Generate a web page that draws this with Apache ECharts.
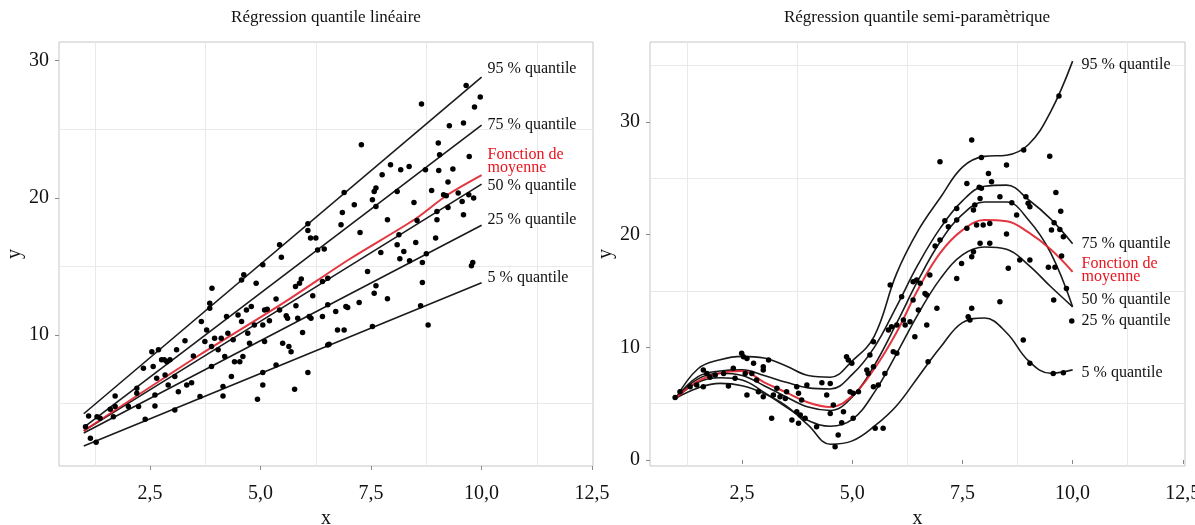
<!DOCTYPE html>
<html><head><meta charset="utf-8">
<script src="https://cdn.jsdelivr.net/npm/echarts@6/dist/echarts.min.js"></script>
<style>html,body{margin:0;padding:0;background:#fff}#c{width:1195px;height:525px}</style>
</head><body><div id="c"></div><script>
// ---------- DATA ----------
const xTicks = [2.5, 5, 7.5, 10, 12.5];
const yTicksLeft = [10, 20, 30];
const yTicksRight = [0, 10, 20, 30];
const gridXs = [1.25, 3.75, 6.25, 8.75, 11.25];
const gridYsLeft = [5, 15, 25];
const gridYsRight = [5, 15, 25, 35];

// Left panel: linear quantile regression (straight lines from x=1 to x=10)
const linX = [1, 10];
const lin95 = [4.25, 28.8];
const lin75 = [3.25, 25.3];
const lin50 = [3.0, 21.0];
const lin25 = [2.85, 18.0];
const lin05 = [1.9, 13.8];
const meanLinX = [1.0, 3.6, 5.5, 7.0, 8.5, 9.2, 10.0];
const meanLinY = [3.0, 8.5, 12.3, 15.5, 18.45, 20.15, 21.65];

const leftPoints = [
[1.11,4.09],[1.15,2.46],[1.04,3.31],[1.30,4.04],[1.37,3.92],[1.28,2.17],[1.60,4.58],[1.71,5.55],[1.71,4.77],[1.67,4.04],
[2.01,4.77],[2.20,6.11],[2.20,5.74],[2.24,4.77],[2.39,3.85],[2.35,7.57],[2.54,8.78],[2.69,8.91],[2.57,7.69],[2.65,6.84],
[2.61,5.62],[2.61,4.82],[2.76,8.18],[2.82,8.18],[2.88,8.05],[2.95,8.18],[2.84,7.08],[3.06,6.96],[3.10,8.91],[3.29,9.58],
[3.06,4.53],[2.91,6.35],[3.14,5.86],[3.33,6.35],[3.44,6.52],[3.48,8.47],[3.66,10.97],[3.63,5.50],[3.78,10.36],[3.74,9.51],
[3.85,12.31],[3.85,11.95],[3.90,13.41],[3.89,9.15],[3.89,7.69],[3.96,9.76],[4.11,9.76],[4.04,8.91],[4.15,6.23],[4.15,5.55],
[4.19,8.42],[4.23,11.34],[4.26,10.12],[4.34,6.96],[4.38,9.64],[4.41,8.05],[4.49,11.46],[4.53,8.05],[4.57,10.97],[4.60,8.42],
[4.62,14.38],[4.57,14.01],[4.68,11.82],[4.71,10.12],[4.75,9.39],[4.79,12.07],[4.86,10.73],[4.90,13.77],[4.93,5.31],[5.05,6.35],
[5.05,10.73],[5.05,15.11],[5.09,11.82],[5.15,11.88],[5.20,11.04],[5.09,9.51],[5.35,12.61],[5.35,7.81],[6.89,20.39],[6.85,18.93],
[6.82,18.03],[6.07,18.10],[6.07,17.61],[6.13,17.06],[6.25,17.06],[6.29,16.20],[6.44,16.26],[5.43,16.57],[5.47,15.67],[5.92,14.07],
[5.88,13.77],[5.79,13.53],[6.18,12.85],[6.40,13.89],[6.52,14.14],[5.80,12.12],[5.58,11.39],[5.61,11.22],[5.84,11.22],[5.43,11.82],
[6.10,11.34],[6.40,11.34],[6.52,12.19],[6.70,11.70],[6.93,12.07],[5.50,9.39],[5.64,9.15],[5.69,8.78],[5.95,10.17],[6.74,10.36],
[6.89,10.36],[6.52,9.27],[6.07,7.25],[5.77,6.04],[5.05,7.25],[9.65,28.18],[9.97,27.35],[9.84,26.62],[8.64,26.84],[9.59,25.45],
[9.27,25.26],[7.28,23.87],[9.02,23.99],[9.05,23.14],[9.72,23.01],[7.94,22.41],[8.17,22.04],[8.36,22.28],[8.73,22.04],[9.03,21.99],
[9.35,22.09],[7.75,21.68],[7.61,20.71],[7.57,20.46],[7.53,19.85],[7.61,19.36],[7.12,19.49],[8.09,20.46],[8.47,19.66],[8.87,20.53],
[9.24,21.15],[9.14,20.22],[9.20,20.15],[9.47,20.34],[9.71,20.22],[9.82,19.98],[9.56,19.73],[8.99,19.00],[9.24,19.29],[9.59,18.76],
[8.99,18.39],[8.54,18.34],[7.87,18.39],[7.25,17.47],[8.13,17.30],[8.09,16.57],[8.24,16.08],[8.51,16.74],[8.96,17.06],[8.75,15.91],
[7.72,16.01],[8.15,15.55],[8.37,15.40],[8.66,15.28],[9.80,15.28],[9.77,15.04],[7.42,14.62],[8.66,13.82],[7.61,13.58],[7.57,13.04],
[7.87,12.63],[7.23,12.36],[7.53,10.61],[8.62,12.12],[8.79,10.73],[6.55,9.32],[6.97,11.99],[6.14,11.22]
];

// Right panel: semi-parametric quantile regression (smooth curves)
const semiX = [1, 1.5, 2, 2.5, 3, 3.5, 4, 4.5, 5, 5.5, 6, 6.5, 7, 7.5, 8, 8.5, 9, 9.5, 10];
const semi95 = [5.5, 8.1, 8.9, 9.2, 9.05, 8.35, 7.5, 7.35, 8.8, 11.0, 16.5, 20.4, 23.3, 26.0, 26.95, 27.05, 28.0, 30.9, 35.4];
const semi75 = [5.5, 7.4, 7.9, 8.0, 7.5, 6.9, 6.4, 6.3, 7.6, 10.0, 13.6, 17.4, 20.6, 23.0, 24.3, 24.4, 23.1, 21.4, 19.2];
const semi50 = [5.5, 7.2, 7.7, 7.5, 6.6, 5.6, 4.7, 4.4, 5.6, 8.4, 12.1, 16.0, 19.4, 21.8, 22.9, 22.9, 21.3, 18.4, 13.6];
const semiMean = [5.5, 7.0, 7.7, 7.9, 6.9, 6.0, 5.1, 4.7, 5.7, 8.1, 11.3, 15.2, 18.4, 20.4, 21.3, 21.2, 20.2, 18.7, 16.7];
const semi25 = [5.5, 6.9, 7.3, 7.1, 6.0, 4.7, 3.5, 3.0, 3.6, 6.0, 9.4, 13.0, 16.1, 18.2, 18.9, 18.7, 17.3, 15.4, 13.6];
const semi05 = [5.5, 6.4, 6.8, 6.6, 5.9, 4.8, 3.1, 1.4, 1.7, 3.0, 4.8, 7.4, 10.0, 12.2, 12.6, 11.3, 8.8, 7.7, 8.0];

const rightPoints = [
[0.98,5.56],[1.09,6.06],[1.32,6.5],[1.47,6.65],[1.62,6.5],[1.62,7.99],[1.70,7.69],[1.77,7.34],[1.89,7.54],[2.08,7.69],
[2.19,6.57],[2.30,8.14],[2.34,7.25],[2.49,9.47],[2.53,9.17],[2.61,9.02],[2.57,7.69],[2.61,5.77],[2.72,7.69],[2.76,8.58],
[2.83,7.10],[2.98,8.28],[2.98,7.99],[2.87,6.06],[3.10,8.87],[2.98,5.62],[3.17,3.70],[3.29,6.36],[3.21,5.77],[3.36,5.62],
[3.48,5.47],[3.51,6.06],[3.74,6.5],[3.78,5.92],[3.85,5.32],[3.97,6.65],[3.74,4.29],[3.82,3.99],[3.78,3.26],[3.63,3.55],
[3.93,3.70],[4.19,2.96],[4.31,6.86],[4.42,5.77],[4.50,6.8],[4.50,4.14],[4.57,4.88],[4.61,1.18],[4.68,2.22],[4.76,3.31],
[4.80,4.29],[4.87,9.17],[4.91,8.87],[4.99,8.58],[4.95,6.06],[5.02,5.92],[5.02,3.70],[5.14,6.06],[5.33,7.99],[5.40,9.32],
[5.48,10.5],[5.52,2.81],[5.70,2.81],[5.59,6.65],[5.74,7.69],[5.86,15.53],[5.89,11.83],[5.93,9.61],[6.01,11.98],[5.48,8.28],
[5.36,7.69],[5.48,6.5],[5.82,11.54],[6.01,9.47],[6.12,14.49],[6.16,12.42],[6.20,11.98],[6.31,12.27],[6.38,15.82],[6.46,15.97],
[6.54,15.68],[6.38,14.2],[6.50,13.31],[6.42,10.94],[6.69,11.98],[6.72,8.72],[6.65,14.79],[6.92,13.46],[6.76,16.42],[6.88,18.99],
[6.99,19.52],[7.10,21.23],[7.18,20.7],[7.37,21.3],[7.37,22.33],[7.37,16.12],[7.48,17.45],[7.60,24.55],[7.60,20.56],[7.75,22.18],
[7.78,22.63],[7.90,23.22],[7.82,20.85],[7.97,20.85],[8.12,21.0],[7.75,18.48],[7.71,18.04],[7.90,19.23],[8.12,19.23],[7.71,13.46],
[7.67,12.42],[8.35,14.05],[6.99,26.47],[7.71,28.4],[8.09,25.44],[8.16,24.69],[7.93,24.11],[7.93,26.85],[8.50,26.18],[8.89,27.51],
[9.48,26.97],[9.69,32.3],[7.88,24.2],[8.35,23.36],[8.62,22.83],[8.94,23.36],[8.99,22.78],[9.03,22.48],[9.62,23.75],[9.73,22.09],
[8.73,21.74],[8.50,20.05],[9.58,21.06],[9.52,20.41],[9.71,20.47],[9.79,19.81],[8.8,17.75],[9.03,17.75],[9.75,18.1],[8.54,17.01],
[9.45,17.1],[9.60,17.1],[9.57,14.2],[9.86,15.23],[9.98,12.33],[7.63,12.72],[8.88,10.65],[9.03,8.58],[9.56,7.69],[9.79,7.75],
[6.69,14.64]
];

const titleLeft = 'Régression quantile linéaire';
const titleRight = 'Régression quantile semi-paramètrique';
const labels = ['95 % quantile', '75 % quantile', '50 % quantile', '25 % quantile', '5 % quantile', 'Fonction de\nmoyenne'];

// ---------- CHART ----------
const SERIF = '"Liberation Serif", "DejaVu Serif", serif';
const chart = echarts.init(document.getElementById('c'), null, {renderer: 'canvas'});
const pairs = (xs, ys) => xs.map((x, i) => [x, ys[i]]);
const fmtX = v => Number(v).toFixed(1).replace('.', ',');

function xAxisFor(gi, min, max) {
  return {
    gridIndex: gi, type: 'value', min: min, max: max,
    axisLine: {show: false}, splitLine: {show: false},
    axisTick: {show: true, customValues: xTicks, length: 4, lineStyle: {color: '#8a8a8a', width: 1}},
    axisLabel: {customValues: xTicks, formatter: fmtX, fontFamily: SERIF, fontSize: 20, color: '#111', margin: 18},
    name: 'x', nameLocation: 'middle', nameGap: 41,
    nameTextStyle: {fontFamily: SERIF, fontSize: 20, color: '#111'}
  };
}
function yAxisFor(gi, min, max, ticks, gap) {
  return {
    gridIndex: gi, type: 'value', min: min, max: max,
    axisLine: {show: false}, splitLine: {show: false},
    axisTick: {show: true, customValues: ticks, length: 4, lineStyle: {color: '#8a8a8a', width: 1}},
    axisLabel: {customValues: ticks, fontFamily: SERIF, fontSize: 20, color: '#111', margin: 10},
    name: 'y', nameLocation: 'middle', nameGap: gap,
    nameTextStyle: {fontFamily: SERIF, fontSize: 20, color: '#111'}
  };
}
function gridSeries(gi, ys) {
  return {
    type: 'line', xAxisIndex: gi, yAxisIndex: gi, data: [], silent: true, z: 0,
    markLine: {
      silent: true, symbol: 'none', z: 0, animation: false,
      label: {show: false},
      lineStyle: {color: '#e9e9e9', width: 1, type: 'solid'},
      emphasis: {disabled: true},
      data: gridXs.map(v => ({xAxis: v})).concat(ys.map(v => ({yAxis: v})))
    }
  };
}
function lineSeries(gi, data, label, dy, red, smooth, dist) {
  return {
    type: 'line', xAxisIndex: gi, yAxisIndex: gi, data: data,
    showSymbol: false, smooth: smooth, silent: true, z: 3,
    lineStyle: {color: red ? '#e0202b' : '#1a1a1a', width: red ? 2 : 1.6, opacity: red ? 0.9 : 1},
    endLabel: {
      show: true, formatter: label, distance: dist, offset: [0, dy],
      fontFamily: SERIF, fontSize: 16, lineHeight: 13, color: red ? '#e8141e' : '#111', align: 'left'
    }
  };
}
function scatterSeries(gi, pts) {
  return {
    type: 'scatter', xAxisIndex: gi, yAxisIndex: gi, data: pts, symbolSize: 5.5, z: 4, silent: true,
    itemStyle: {color: '#000', opacity: 1}
  };
}

const option = {
  animation: false,
  backgroundColor: '#fff',
  grid: [
    {left: 59, top: 42, width: 534, height: 424, outerBoundsMode: 'none', containLabel: false, show: true, borderColor: '#c6c6c6', borderWidth: 1, backgroundColor: 'transparent'},
    {left: 650, top: 42, width: 535, height: 424, outerBoundsMode: 'none', containLabel: false, show: true, borderColor: '#c6c6c6', borderWidth: 1, backgroundColor: 'transparent'}
  ],
  xAxis: [xAxisFor(0, 0.44, 12.52), xAxisFor(1, 0.41, 12.55)],
  yAxis: [yAxisFor(0, 0.44, 31.36, yTicksLeft, 30), yAxisFor(1, -0.53, 37.1, yTicksRight, 33)],
  graphic: [
    {type: 'text', x: 326, y: 18, style: {text: titleLeft, font: '17px ' + SERIF, fill: '#111', align: 'center', verticalAlign: 'middle'}},
    {type: 'text', x: 917, y: 18, style: {text: titleRight, font: '17px ' + SERIF, fill: '#111', align: 'center', verticalAlign: 'middle'}}
  ],
  series: [
    gridSeries(0, gridYsLeft),
    gridSeries(1, gridYsRight),
    lineSeries(0, pairs(linX, lin95), labels[0], -8, false, false, 6),
    lineSeries(0, pairs(linX, lin75), labels[1], 0, false, false, 6),
    lineSeries(0, pairs(linX, lin50), labels[2], 2, false, false, 6),
    lineSeries(0, pairs(linX, lin25), labels[3], -5, false, false, 6),
    lineSeries(0, pairs(linX, lin05), labels[4], -5, false, false, 6),
    lineSeries(0, pairs(meanLinX, meanLinY), labels[5], -14, true, 0.3, 6),
    scatterSeries(0, leftPoints),
    lineSeries(1, pairs(semiX, semi95), labels[0], 4, false, 0.4, 9),
    lineSeries(1, pairs(semiX, semi75), labels[1], 0, false, 0.4, 9),
    lineSeries(1, pairs(semiX, semi50), labels[2], -7, false, 0.4, 9),
    lineSeries(1, pairs(semiX, semi25), labels[3], 14, false, 0.4, 9),
    lineSeries(1, pairs(semiX, semi05), labels[4], 3, false, 0.4, 9),
    lineSeries(1, pairs(semiX, semiMean), labels[5], -2, true, 0.4, 9),
    scatterSeries(1, rightPoints)
  ]
};
chart.setOption(option);
</script></body></html>
